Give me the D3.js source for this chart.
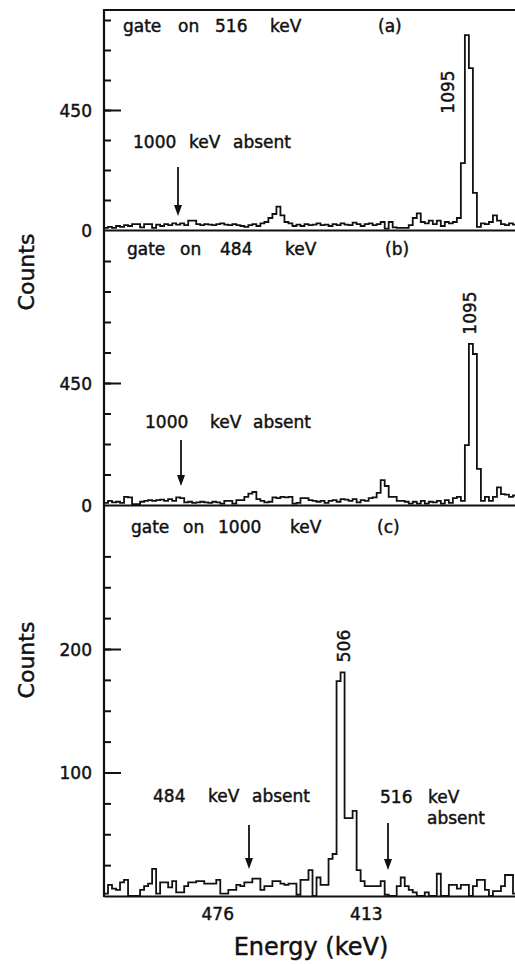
<!DOCTYPE html>
<html lang="en">
<head>
    <meta charset="UTF-8">
    <title>Gated spectra</title>
    <script src="https://cdn.jsdelivr.net/npm/d3@7/dist/d3.min.js"></script>
    <style>
        body { margin: 0; background: #fff; }
        svg text { font-family: "DejaVu Sans", sans-serif; fill: #111; stroke: #111; stroke-width: 0.45px; }
        .axis path, .axis line { stroke: #111; stroke-width: 2px; }
    </style>
</head>
<body>
<div id="chart"></div>
<script>
// bins: first bin starts at energyStart, each bin is binWidth keV wide (energy decreasing to the right)
const energyStart = 524;
const binWidth = 1.7;

const countsA = [8,12,8,15,12,18,15,22,22,10, 22,22,8,20,15,22,18,25,20,25,
    18,35,35,22,18,22,20,18,22,25, 20,18,22,18,15,12,18,22,15,25,
    30,45,60,88,55,30,25,15,20,15, 22,18,20,25,18,20,15,22,18,25,
    20,18,28,22,15,22,25,18,22,30, 5,30,10,8,8,8,18,45,62,30,
    25,35,22,35,15,30,25,30,45,251, 731,607,139,12,25,22,30,55,35,22,
    18,25,20];

const countsB = [8,15,10,12,8,30,28,3,3,12, 15,18,15,18,20,15,22,15,28,25,
    10,12,8,10,12,10,8,12,10,5, 15,15,5,18,18,30,42,48,22,15,
    10,12,28,25,30,28,30,5,8,25, 25,18,15,12,15,8,15,18,12,22,
    20,15,22,10,18,15,25,28,45,92, 70,30,30,15,15,12,5,12,5,15,
    5,12,10,15,5,18,8,25,30,15, 221,594,557,133,15,30,15,30,65,40,
    38,30,35];

const countsC = [2,9,6,5,11,13,0,0,0,5, 8,10,22,2,11,11,7,12,3,3,
    8,11,11,12,12,10,10,10,13,2, 2,5,5,9,8,11,11,14,14,5,
    8,8,12,12,10,9,10,10,1,13, 13,21,0,15,9,9,30,34,174,181,
    63,63,69,21,12,8,8,8,8,12, 1,0,0,8,15,8,5,3,0,0,
    3,0,0,18,0,0,9,9,6,9, 9,0,8,13,13,5,0,4,4,8,
    17,17,2];

// y ticks
const ticksA = [0, 112.5, 225, 337.5, 450, 562.5, 675, 787.5];
const labelsA = [0, 450];
const ticksB = [0, 112.5, 225, 337.5, 450, 562.5, 675, 787.5, 900];
const labelsB = [0, 450];
const ticksC = [25, 50, 75, 100, 125, 150, 175, 200, 225, 250, 275];
const labelsC = [100, 200];

// x tick labels
const energyTicks = [476, 413];

const W = 515, H = 964;
const left = 104, right = 517;

const svg = d3.select("#chart").append("svg")
    .attr("width", W)
    .attr("height", H);

const nBins = countsA.length;
const x = d3.scaleLinear()
    .domain([energyStart, energyStart - binWidth * nBins])
    .range([left, right]);

const panels = [
    {counts: countsA, ticks: ticksA, labels: labelsA, top: 10, zeroY: 230, refVal: 450, refY: 110},
    {counts: countsB, ticks: ticksB, labels: labelsB, top: 230, zeroY: 505, refVal: 450, refY: 383},
    {counts: countsC, ticks: ticksC, labels: labelsC, top: 505, zeroY: 896, refVal: 200, refY: 649}
];

panels.forEach(function(p, k) {
    const pxPer = (p.zeroY - p.refY) / p.refVal;
    const y = d3.scaleLinear()
        .domain([0, (p.zeroY - p.top) / pxPer])
        .range([p.zeroY, p.top]);

    // inward tick marks
    svg.append("g")
        .attr("class", "axis")
        .attr("transform", `translate(${left},0)`)
        .call(d3.axisRight(y).tickValues(p.ticks.filter(t => t > 0))
            .tickSize(7).tickFormat(""))
        .call(g => g.select(".domain").remove());

    svg.append("g")
        .attr("class", "axis")
        .attr("transform", `translate(${left},0)`)
        .call(d3.axisRight(y).tickValues(p.labels.filter(t => t > 0))
            .tickSize(17).tickFormat(""))
        .call(g => g.select(".domain").remove());

    // tick labels
    const lab = svg.append("g")
        .attr("class", "axis")
        .attr("transform", `translate(${left},0)`)
        .call(d3.axisLeft(y).tickValues(p.labels).tickSize(0).tickPadding(12))
        .call(g => g.select(".domain").remove());
    lab.selectAll("text")
        .style("font-size", "17px")
        .attr("dy", "0.36em");

    // baseline / x axis
    const xa = svg.append("g")
        .attr("class", "axis")
        .attr("transform", `translate(0,${p.zeroY})`)
        .call(d3.axisBottom(x).tickValues(k === 2 ? energyTicks : []).tickSize(0).tickSizeOuter(0).tickPadding(12));
    xa.selectAll("text").style("font-size", "17px");

    // step histogram
    const pts = p.counts.map((c, i) => [energyStart - binWidth * i, c]);
    pts.push([energyStart - binWidth * nBins, p.counts[nBins - 1]]);
    const line = d3.line()
        .x(d => x(d[0]))
        .y(d => y(d[1]))
        .curve(d3.curveStepAfter);
    svg.append("path")
        .datum(pts)
        .attr("fill", "none")
        .attr("stroke", "#111")
        .attr("stroke-width", 1.8)
        .attr("d", line);
});

// frame: left axis line and top border
svg.append("line")
    .attr("x1", left).attr("x2", left)
    .attr("y1", 9).attr("y2", 897)
    .attr("stroke", "#111").attr("stroke-width", 2.2);
svg.append("line")
    .attr("x1", left).attr("x2", W)
    .attr("y1", 10).attr("y2", 10)
    .attr("stroke", "#111").attr("stroke-width", 2);

function words(list, yy, size) {
    list.forEach(function(w) {
        svg.append("text")
            .attr("x", w[1])
            .attr("y", yy)
            .style("font-size", size + "px")
            .text(w[0]);
    });
}

function arrow(xx, y1, y2) {
    svg.append("line")
        .attr("x1", xx).attr("x2", xx)
        .attr("y1", y1).attr("y2", y2 - 8)
        .attr("stroke", "#111").attr("stroke-width", 1.8);
    svg.append("path")
        .attr("d", `M${xx - 4},${y2 - 11} L${xx + 4},${y2 - 11} L${xx},${y2} Z`)
        .attr("fill", "#111");
}

function vlabel(txt, xx, yy) {
    svg.append("text")
        .attr("transform", `translate(${xx},${yy}) rotate(-90)`)
        .attr("text-anchor", "middle")
        .attr("dy", "0.36em")
        .style("font-size", "17px")
        .text(txt);
}

// panel (a)
words([["gate", 123], ["on", 178], ["516", 215], ["keV", 270], ["(a)", 378]], 32, 17);
words([["1000", 133], ["keV", 189], ["absent", 233]], 148, 17);
arrow(178, 167, 216);
vlabel("1095", 448, 92);

// panel (b)
words([["gate", 127], ["on", 180], ["484", 220], ["keV", 285], ["(b)", 385]], 255, 17);
words([["1000", 145], ["keV", 210], ["absent", 253]], 428, 17);
arrow(181, 440, 486);
vlabel("1095", 470, 313);

// panel (c)
words([["gate", 131], ["on", 183], ["1000", 218], ["keV", 290], ["(c)", 377]], 533, 17);
words([["484", 153], ["keV", 208], ["absent", 252]], 802, 17);
arrow(249, 825, 869);
words([["516", 380], ["keV", 428]], 803, 17);
words([["absent", 427]], 824, 17);
arrow(388, 823, 870);
vlabel("506", 344, 646);

// axis titles
svg.append("text")
    .attr("transform", "translate(26,272) rotate(-90)")
    .attr("text-anchor", "middle")
    .attr("dy", "0.36em")
    .style("font-size", "22px")
    .text("Counts");
svg.append("text")
    .attr("transform", "translate(26,660) rotate(-90)")
    .attr("text-anchor", "middle")
    .attr("dy", "0.36em")
    .style("font-size", "22px")
    .text("Counts");
svg.append("text")
    .attr("x", 311)
    .attr("y", 955)
    .attr("text-anchor", "middle")
    .style("font-size", "24px")
    .text("Energy (keV)");
</script>
</body>
</html>
